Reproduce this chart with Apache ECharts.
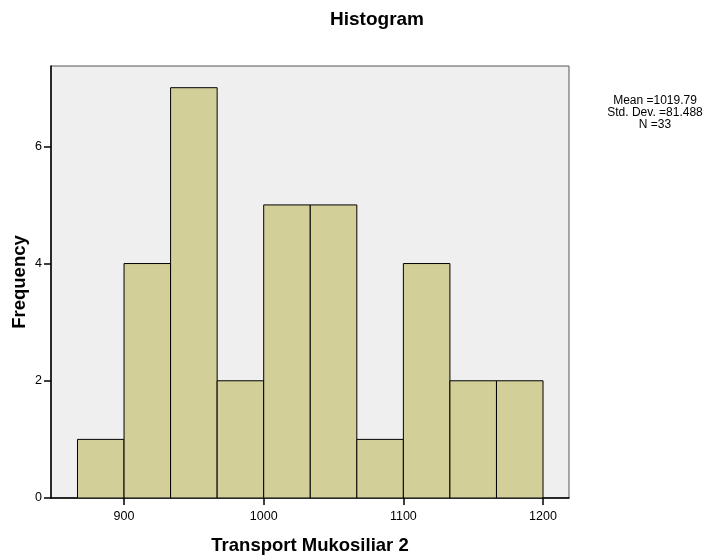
<!DOCTYPE html>
<html><head><meta charset="utf-8">
<script src="https://cdn.jsdelivr.net/npm/echarts@6/dist/echarts.min.js"></script>
<style>html,body{margin:0;padding:0;background:#fff}#c{width:717px;height:560px}</style>
</head><body><div id="c"></div>
<script>
const binStarts = [866.67, 900, 933.33, 966.67, 1000, 1033.33, 1066.67, 1100, 1133.33, 1166.67];
const binEnds   = [900, 933.33, 966.67, 1000, 1033.33, 1066.67, 1100, 1133.33, 1166.67, 1200];
const frequencies = [1, 4, 7, 2, 5, 5, 1, 4, 2, 2];
const xTicks = [900, 1000, 1100, 1200];
const yTicks = [0, 2, 4, 6];
const statsLines = ['Mean =1019.79', 'Std. Dev. =81.488', 'N =33'];

const data = frequencies.map((f, i) => [binStarts[i], binEnds[i], f]);
const font = 'Liberation Sans, Arial, sans-serif';
const chart = echarts.init(document.getElementById('c'));
chart.setOption({
  animation: false,
  title: {text: 'Histogram', left: 372, top: 5, textAlign: 'center',
    textStyle: {fontFamily: font, fontSize: 19, fontWeight: 'bold', color: '#000'}},
  graphic: [{type: 'text', x: 655, y: 95,
    style: {text: statsLines.join('\n'), font: '12px ' + font, fill: '#000', align: 'center', textAlign: 'center', lineHeight: 12}}],
  grid: {left: 51, right: 148, top: 66, bottom: 62, show: true, backgroundColor: '#efefef', borderColor: '#555', borderWidth: 1,
    outerBoundsMode: 'none', containLabel: false},
  xAxis: {type: 'value', min: 847.7, max: 1218.6,
    name: 'Transport Mukosiliar 2', nameLocation: 'middle', nameGap: 38, nameMoveOverlap: false,
    nameTextStyle: {fontFamily: font, fontSize: 18.5, fontWeight: 'bold', color: '#000'},
    splitLine: {show: false},
    axisLine: {show: true, lineStyle: {color: '#000', width: 1.5}},
    axisTick: {show: true, length: 7, lineStyle: {color: '#000', width: 1.5}, customValues: xTicks},
    axisLabel: {customValues: xTicks, formatter: v => String(v), fontFamily: font, fontSize: 12.5, color: '#000', margin: 12}},
  yAxis: {type: 'value', min: 0, max: 7.37,
    name: 'Frequency', nameLocation: 'middle', nameGap: 22, nameRotate: 90, nameMoveOverlap: false,
    nameTextStyle: {fontFamily: font, fontSize: 18.5, fontWeight: 'bold', color: '#000'},
    splitLine: {show: false},
    axisLine: {show: true, lineStyle: {color: '#000', width: 1.5}},
    axisTick: {show: true, length: 7, lineStyle: {color: '#000', width: 1.5}, customValues: yTicks},
    axisLabel: {customValues: yTicks, formatter: v => String(v), fontFamily: font, fontSize: 12.5, color: '#000', margin: 9}},
  series: [{type: 'custom', data: data, clip: true,
    renderItem: function (params, api) {
      const p0 = api.coord([api.value(0), 0]);
      const p1 = api.coord([api.value(1), api.value(2)]);
      return {type: 'rect', shape: {x: p0[0], y: p1[1], width: p1[0] - p0[0], height: p0[1] - p1[1]},
        style: {fill: '#d3cf99', stroke: '#000', lineWidth: 1}};
    }}]
});
</script></body></html>
